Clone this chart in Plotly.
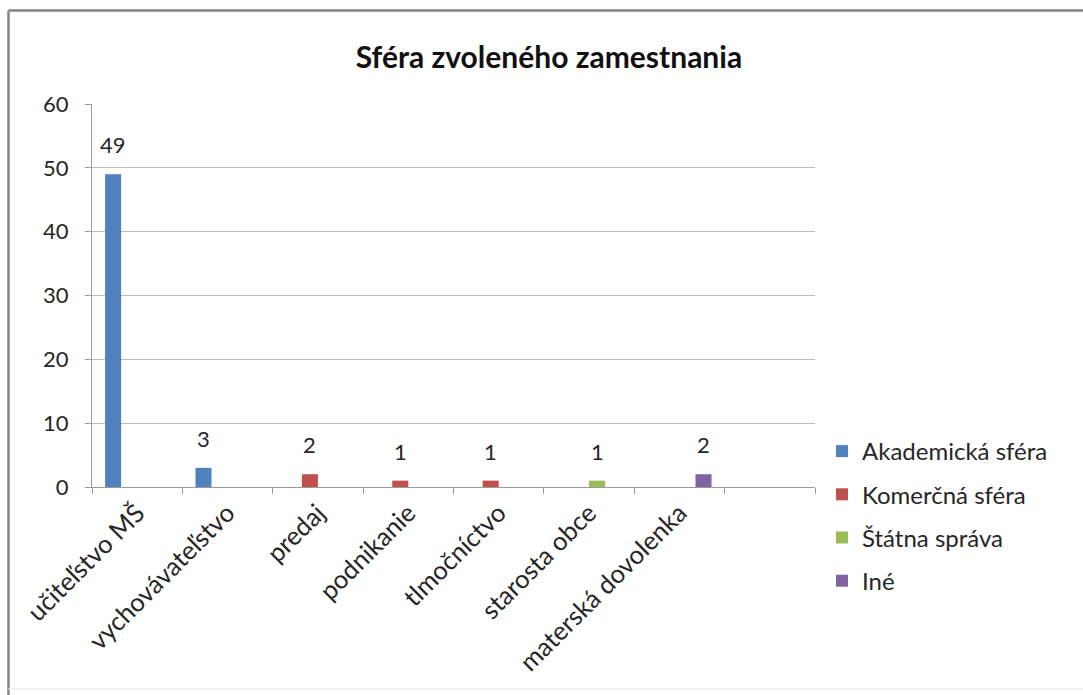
import plotly.graph_objects as go

categories = ["učiteľstvo MŠ", "vychovávateľstvo", "predaj", "podnikanie",
              "tlmočníctvo", "starosta obce", "materská dovolenka", " "]
series_names = ["Akademická sféra", "Komerčná sféra", "Štátna správa", "Iné"]
akademicka = [49, 3, None, None, None, None, None, None]
komercna = [None, None, 2, 1, 1, None, None, None]
statna = [None, None, None, None, None, 1, None, None]
ine = [None, None, None, None, None, None, 2, None]
series_values = [akademicka, komercna, statna, ine]
colors = ["#4F81BD", "#C0504D", "#9BBB59", "#8064A2"]

W, H = 1083, 695
L, R, T, B = 92, 268, 104, 208
plot_w = W - L - R
bargap = 0.29
FONT = "Lato, Carlito, Calibri, sans-serif"
TXT = "#262626"

fig = go.Figure()
for i, (name, vals, col) in enumerate(zip(series_names, series_values, colors)):
    fig.add_trace(go.Bar(
        x=categories, y=vals, name=name, marker_color=col,
        marker_line_width=0, legendgroup=name,
    ))

# data labels
n_series = len(series_names)
cat_px = plot_w / len(categories)
bar_px = cat_px * (1 - bargap) / n_series
annotations = []
for s, vals in enumerate(series_values):
    for c, v in zip(categories, vals):
        if v is None:
            continue
        annotations.append(dict(
            x=c, y=v, xref="x", yref="y", text=str(v), showarrow=False,
            xshift=(s - (n_series - 1) / 2) * bar_px, yshift=14,
            yanchor="bottom", font=dict(family=FONT, size=22, color=TXT),
        ))

# outer frame
def px_x(p):
    return (p - L) / plot_w

def px_y(p):
    return (H - B - p) / (H - T - B)

shapes = [
    dict(type="line", xref="paper", yref="paper", x0=px_x(8.5), x1=px_x(1100),
         y0=px_y(10.5), y1=px_y(10.5), line=dict(color="#858585", width=2.5)),
    dict(type="line", xref="paper", yref="paper", x0=px_x(8.5), x1=px_x(8.5),
         y0=px_y(10.5), y1=px_y(700), line=dict(color="#858585", width=2.5)),
    dict(type="line", xref="paper", yref="paper", x0=px_x(8.5), x1=px_x(1100),
         y0=px_y(689), y1=px_y(689), line=dict(color="#ebebeb", width=1.5)),
]

fig.update_layout(
    width=W, height=H,
    margin=dict(l=L, r=R, t=T, b=B, autoexpand=False),
    paper_bgcolor="white", plot_bgcolor="white",
    barmode="group", bargap=bargap, bargroupgap=0,
    title=dict(text="<b>Sféra zvoleného zamestnania</b>", x=549 / W, xanchor="center",
               y=1 - 57 / H, yanchor="middle", yref="container",
               font=dict(family=FONT, size=30, color="#111111")),
    font=dict(family=FONT, size=22, color=TXT),
    xaxis=dict(
        type="category", tickangle=-45, ticks="outside", tickson="boundaries",
        ticklen=6, tickcolor="#9a9a9a", showline=True, linecolor="#9a9a9a",
        linewidth=1, showgrid=False, tickfont=dict(family=FONT, size=25.5, color=TXT),
        range=[-0.5, len(categories) - 0.5],
    ),
    yaxis=dict(
        range=[0, 60], dtick=10, ticks="outside", ticklen=6, tickcolor="#9a9a9a",
        showline=True, linecolor="#9a9a9a", linewidth=1, showgrid=True,
        gridcolor="#bdbdbd", gridwidth=1, zeroline=False,
        tickfont=dict(family=FONT, size=22, color=TXT), ticklabelstandoff=12,
    ),
    legend=dict(x=px_x(822), y=px_y(429), xanchor="left", yanchor="top",
                font=dict(family=FONT, size=24, color=TXT), tracegroupgap=9,
                itemwidth=30, bgcolor="rgba(0,0,0,0)"),
    annotations=annotations,
    shapes=shapes,
)

fig.write_html("out.html", config={"displayModeBar": False},
               post_script="document.body.style.margin='0';document.body.style.overflow='hidden';")
